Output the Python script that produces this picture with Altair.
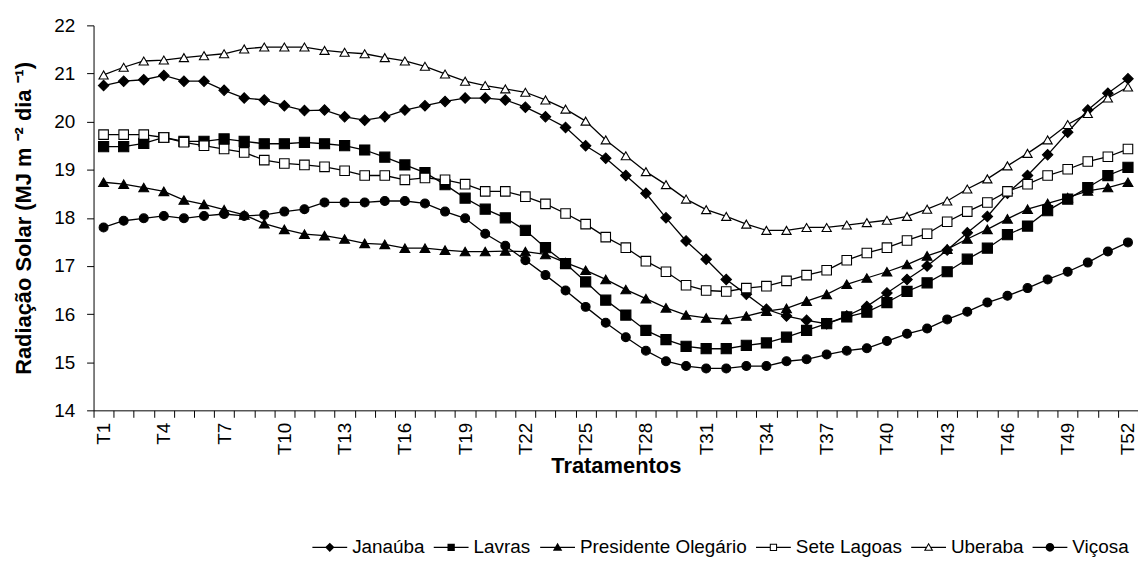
import altair as alt
import pandas as pd

tratamentos = [f"T{i}" for i in range(1, 53)]
series_names = ["Janaúba", "Lavras", "Presidente Olegário", "Sete Lagoas", "Uberaba", "Viçosa"]

janauba = [20.75, 20.84, 20.87, 20.96, 20.84, 20.84, 20.65, 20.49, 20.45, 20.33, 20.23, 20.24, 20.10,
           20.03, 20.10, 20.24, 20.33, 20.42, 20.49, 20.49, 20.45, 20.30, 20.10, 19.88, 19.50, 19.24,
           18.88, 18.51, 18.00, 17.52, 17.14, 16.72, 16.41, 16.10, 15.96, 15.87, 15.80, 15.96, 16.16,
           16.44, 16.72, 17.00, 17.33, 17.69, 18.03, 18.51, 18.88, 19.31, 19.78, 20.24, 20.59, 20.89]
lavras = [19.48, 19.48, 19.55, 19.67, 19.59, 19.59, 19.64, 19.59, 19.54, 19.54, 19.57, 19.54, 19.50,
          19.41, 19.26, 19.10, 18.94, 18.69, 18.41, 18.18, 18.00, 17.74, 17.38, 17.05, 16.67, 16.29,
          15.98, 15.66, 15.47, 15.33, 15.28, 15.28, 15.35, 15.40, 15.52, 15.66, 15.80, 15.94, 16.04,
          16.24, 16.47, 16.65, 16.88, 17.14, 17.37, 17.65, 17.83, 18.15, 18.39, 18.63, 18.88, 19.05]
pres_olegario = [18.74, 18.70, 18.63, 18.55, 18.37, 18.28, 18.17, 18.06, 17.88, 17.76, 17.66, 17.63, 17.56,
                 17.47, 17.45, 17.37, 17.37, 17.33, 17.30, 17.30, 17.31, 17.30, 17.24, 17.07, 16.91, 16.72,
                 16.51, 16.32, 16.13, 15.98, 15.92, 15.89, 15.96, 16.06, 16.12, 16.27, 16.41, 16.62, 16.75,
                 16.88, 17.03, 17.21, 17.35, 17.56, 17.76, 17.98, 18.18, 18.30, 18.42, 18.56, 18.63, 18.74]
sete_lagoas = [19.73, 19.73, 19.73, 19.67, 19.57, 19.50, 19.43, 19.36, 19.20, 19.13, 19.10, 19.06, 18.98,
               18.88, 18.88, 18.79, 18.83, 18.79, 18.70, 18.55, 18.55, 18.44, 18.29, 18.09, 17.87, 17.60,
               17.38, 17.10, 16.88, 16.60, 16.49, 16.47, 16.54, 16.58, 16.69, 16.81, 16.91, 17.12, 17.27,
               17.38, 17.53, 17.67, 17.92, 18.13, 18.32, 18.55, 18.70, 18.88, 19.01, 19.17, 19.27, 19.43]
uberaba = [20.97, 21.13, 21.26, 21.28, 21.33, 21.37, 21.41, 21.51, 21.55, 21.55, 21.55, 21.48, 21.44,
           21.41, 21.33, 21.26, 21.15, 20.99, 20.84, 20.75, 20.68, 20.61, 20.45, 20.26, 20.01, 19.62,
           19.29, 18.96, 18.69, 18.39, 18.17, 18.03, 17.87, 17.74, 17.74, 17.80, 17.80, 17.85, 17.90,
           17.95, 18.03, 18.18, 18.35, 18.60, 18.81, 19.08, 19.34, 19.62, 19.94, 20.17, 20.49, 20.72]
vicosa = [17.80, 17.94, 17.99, 18.04, 17.99, 18.04, 18.08, 18.04, 18.06, 18.13, 18.18, 18.32, 18.32,
          18.32, 18.35, 18.35, 18.30, 18.13, 17.99, 17.67, 17.42, 17.12, 16.81, 16.49, 16.15, 15.82,
          15.52, 15.24, 15.02, 14.92, 14.87, 14.87, 14.92, 14.92, 15.02, 15.06, 15.16, 15.24, 15.29,
          15.44, 15.59, 15.70, 15.89, 16.05, 16.24, 16.38, 16.54, 16.72, 16.88, 17.07, 17.30, 17.49]

y_ticks = [14, 15, 16, 17, 18, 19, 20, 21, 22]
tick_labels = tratamentos[::3]

all_series = [janauba, lavras, pres_olegario, sete_lagoas, uberaba, vicosa]
rows = []
for name, vals in zip(series_names, all_series):
    for i, (t, v) in enumerate(zip(tratamentos, vals)):
        rows.append({"Série": name, "Tratamento": t, "idx": i + 1, "valor": v})
df = pd.DataFrame(rows)

label_idx = [tratamentos.index(t) + 1 for t in tick_labels]
edge_ticks = [i + 0.5 for i in range(len(tratamentos) + 1)]

FONT = "Liberation Sans"

xscale = alt.Scale(domain=[0.5, len(tratamentos) + 0.5], nice=False, zero=False)
yscale = alt.Scale(domain=[14, 22], nice=False, zero=False)

y_enc = alt.Y(
    "valor:Q", scale=yscale,
    axis=alt.Axis(values=y_ticks, tickSize=7, labelPadding=12, labelFontSize=19, labelFont=FONT,
                  labelColor="black", domainColor="black", tickColor="black", grid=False,
                  title="Radiação Solar (MJ m ⁻² dia ⁻¹)", titleFont=FONT, titleFontSize=22,
                  titleFontWeight="bold", titleColor="black", titlePadding=18),
)

base = alt.Chart(df)

lines = base.mark_line(color="black", strokeWidth=1.3).encode(
    x=alt.X("idx:Q", scale=xscale,
            axis=alt.Axis(values=edge_ticks, labels=False, ticks=True, tickSize=7, domain=True,
                          domainColor="black", tickColor="black", grid=False, title=None,
                          orient="bottom")),
    y=y_enc,
    detail="Série:N",
)

marker_shapes = ["diamond", "square", "triangle-up", "square", "triangle-up", "circle"]
marker_fills = ["black", "black", "black", "white", "white", "black"]
marker_sizes = [110, 80, 100, 80, 100, 100]

points = base.mark_point(strokeWidth=1.1, opacity=1, stroke="black").encode(
    x=alt.X("idx:Q", scale=xscale,
            axis=alt.Axis(values=label_idx, labelExpr="'T' + datum.value", ticks=False, domain=False,
                          labelAngle=270, labelFontSize=19, labelFont=FONT, labelColor="black",
                          labelPadding=12, grid=False, title="Tratamentos", titleFont=FONT,
                          titleFontSize=22, titleFontWeight="bold", titleColor="black",
                          titlePadding=1, orient="bottom", labelOverlap=False)),
    y=y_enc,
    shape=alt.Shape("Série:N", scale=alt.Scale(domain=series_names, range=marker_shapes), legend=None),
    fill=alt.Fill("Série:N", scale=alt.Scale(domain=series_names, range=marker_fills), legend=None),
    size=alt.Size("Série:N", scale=alt.Scale(domain=series_names, range=marker_sizes), legend=None),
)

# legend symbols: line segment + marker (filled paths, open markers as rings)
seg = "M-1,-0.04H1V0.04H-1Z"
legend_paths = [
    seg + "M-0.27,0L0,-0.27L0.27,0L0,0.27Z",
    seg + "M-0.21,-0.21H0.21V0.21H-0.21Z",
    seg + "M0,-0.27L0.27,0.2L-0.27,0.2Z",
    "M-1,-0.04H-0.2V0.04H-1ZM0.2,-0.04H1V0.04H0.2Z"
    "M-0.21,-0.21H0.21V0.21H-0.21ZM-0.15,-0.15V0.15H0.15V-0.15Z",
    "M-1,-0.04H-0.14V0.04H-1ZM0.14,-0.04H1V0.04H0.14Z"
    "M0,-0.27L0.27,0.2L-0.27,0.2ZM0,-0.15L-0.16,0.14L0.16,0.14Z",
    seg + "M-0.25,0A0.25,0.25 0 1,1 0.25,0A0.25,0.25 0 1,1 -0.25,0Z",
]

legend_layer = base.transform_filter("false").mark_point(filled=True, color="black", size=1225, opacity=1).encode(
    x=alt.X("idx:Q", scale=xscale, axis=None),
    y=y_enc,
    shape=alt.Shape(
        "Série:N",
        scale=alt.Scale(domain=series_names, range=legend_paths),
        legend=alt.Legend(orient="none", legendX=220, legendY=507, direction="horizontal", columns=6,
                          title=None, symbolSize=1225, symbolStrokeWidth=0, symbolFillColor="black",
                          labelFont=FONT, labelFontSize=19, labelColor="black", labelOffset=5,
                          columnPadding=9, symbolOpacity=1, labelLimit=0),
    ),
)

chart = alt.layer(lines, points, legend_layer).resolve_scale(
    shape="independent", fill="independent", size="independent"
).resolve_axis(x="independent").properties(
    width=1050, height=387, background="white",
    autosize=alt.AutoSizeParams(type="none"),
    padding={"left": 86, "top": 16, "right": 0, "bottom": 150},
).configure_view(stroke=None)

chart.save("out.html", embed_options={"renderer": "svg", "actions": False})
